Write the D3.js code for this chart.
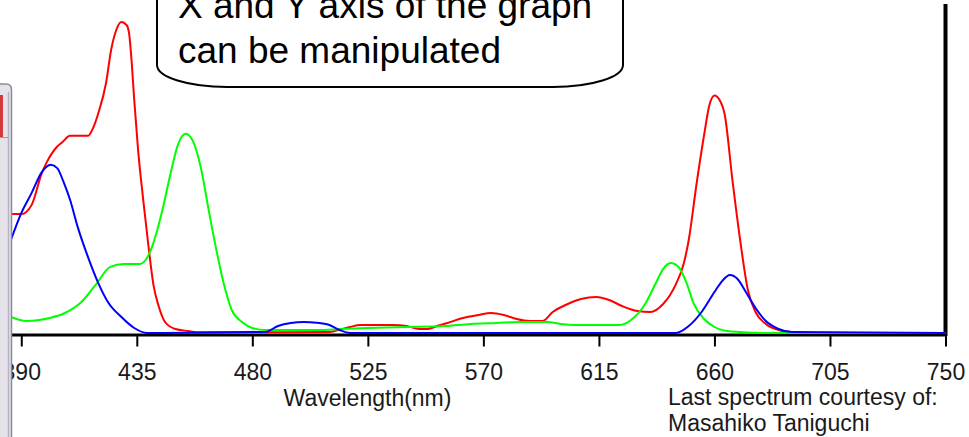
<!DOCTYPE html>
<html>
<head>
<meta charset="utf-8">
<style>
  html, body { margin: 0; padding: 0; background: #fff; }
  svg { display: block; }
</style>
<script src="https://cdn.jsdelivr.net/npm/d3@7"></script>
</head>
<body>
<svg id="chart" width="969" height="437"></svg>
<script>
// spectrum data (relative intensity 0-100)
const redNm  = [386, 390, 394, 398, 400, 402, 404, 406, 409, 412, 416, 418, 420, 423, 425, 427, 429, 431, 432, 433, 434, 435.5, 437.5, 439.5, 441.5, 443.5, 446, 450, 455, 460, 510, 515, 518, 522, 535, 540, 545, 548, 552, 556, 562, 568, 573, 578, 583, 588, 593, 597, 602, 608, 614, 619, 624, 630, 635, 640, 645, 648, 650, 653, 656, 658, 660, 662, 664, 667, 670, 673, 676, 680, 685, 690, 700, 750];
const redVal = [35.7, 35.7, 38.4, 48, 51.4, 54, 56, 57.3, 59.2, 59.2, 59.2, 61.6, 66, 75, 85, 91, 93.4, 92.5, 90, 81.4, 70, 55, 40, 26.4, 14.4, 8.1, 3.3, 1.2, 0.6, 0.2, 0.3, 1.2, 1.8, 2.4, 2.4, 2.1, 1.2, 1.2, 2.1, 3, 4.5, 5.4, 6, 5.4, 4.2, 3.6, 3.6, 6.3, 8.4, 10.2, 10.8, 9.9, 8.1, 6.6, 6.3, 8.7, 14.7, 20.7, 28, 44.6, 59.6, 68.3, 71.3, 70, 65.6, 46, 28, 13, 6.3, 2.7, 0.9, 0.3, 0, 0];

const greenNm  = [386, 392, 397, 401, 407, 413, 419.5, 424.5, 430, 436, 438.5, 441, 443, 445, 448, 451, 454, 457, 460, 463, 466, 469, 472, 476, 480, 485, 505, 515, 525, 540, 555, 565, 575, 585, 595, 600, 606, 615, 623, 628, 633, 637, 640, 643, 646, 649, 652, 656, 660, 665, 670, 680, 750];
const greenVal = [4.8, 3.6, 3.9, 4.5, 6, 9, 15, 19.8, 20.7, 20.7, 22, 26, 31, 37, 47.4, 56.5, 59.8, 57.4, 49.5, 36.9, 24.9, 14.4, 6.9, 3.3, 1.5, 0.9, 0.9, 1.2, 1.5, 1.8, 2.1, 2.7, 3, 3.3, 3.3, 2.7, 2.4, 2.4, 2.4, 4.2, 8.7, 14.7, 19.2, 21, 19.8, 15.3, 8.7, 4.2, 1.8, 0.6, 0.3, 0, 0];

const blueNm  = [386, 390, 394, 398, 401.5, 404, 406.5, 409, 412, 416, 420, 424, 429, 434, 439, 485, 490, 495, 500, 505, 510, 514, 518, 645, 650, 655, 660, 663, 666, 669, 672, 676, 680, 685, 690, 750];
const blueVal = [28, 36, 42, 48.3, 50.5, 49.5, 45.3, 40, 31.8, 22.8, 15, 9, 4.8, 1.5, 0, 0.3, 2.1, 3, 3.3, 3.1, 2.4, 0.9, 0, 0, 2.1, 6.3, 12.3, 15.6, 17.4, 16.2, 12.6, 7.5, 3.6, 1.2, 0.3, 0];

const tickNm = [390, 435, 480, 525, 570, 615, 660, 705, 750];
const calloutLines = ["X and Y axis of the graph", "can be manipulated"];
const creditLines = ["Last spectrum courtesy of:", "Masahiko Taniguchi"];

const series = [
  { nm: redNm, val: redVal, color: "#ff0000" },
  { nm: greenNm, val: greenVal, color: "#00ff00" },
  { nm: blueNm, val: blueVal, color: "#0000ff" }
];

const x = d3.scaleLinear().domain([386, 750]).range([11, 945.5]);
const y = d3.scaleLinear().domain([0, 100]).range([333, 0]);

const svg = d3.select("#chart")
    .style("font-family", "'Liberation Sans', Arial, sans-serif");

svg.append("rect").attr("width", 969).attr("height", 437).attr("fill", "#fff");

// right border of the plot
svg.append("line")
    .attr("x1", x(750)).attr("x2", x(750))
    .attr("y1", 4).attr("y2", 336)
    .attr("stroke", "#000").attr("stroke-width", 4);

// wavelength axis
const axis = svg.append("g")
    .attr("transform", "translate(0,334.5)")
    .call(d3.axisBottom(x).tickValues(tickNm).tickSize(12).tickSizeOuter(0).tickFormat(d3.format("d")));
axis.select(".domain").attr("stroke", "#000").attr("stroke-width", 3);
axis.selectAll(".tick line").attr("stroke", "#000").attr("stroke-width", 2);
axis.selectAll(".tick text")
    .attr("y", 0).attr("dy", 0)
    .attr("transform", "translate(0,45.5)")
    .style("font-size", "23px")
    .style("font-family", "'Liberation Sans', Arial, sans-serif")
    .attr("fill", "#1a1a1a");

// spectra
const line = d3.line()
    .x(d => x(d[0]))
    .y(d => y(d[1]))
    .curve(d3.curveMonotoneX);

svg.append("g")
    .attr("fill", "none")
    .attr("stroke-width", 2)
    .selectAll("path")
    .data(series)
    .join("path")
    .attr("stroke", d => d.color)
    .attr("d", d => line(d3.zip(d.nm, d.val)));

svg.append("text")
    .attr("x", 367.5).attr("y", 406)
    .attr("text-anchor", "middle")
    .style("font-size", "23px")
    .attr("fill", "#1a1a1a")
    .text("Wavelength(nm)");

svg.append("g")
    .selectAll("text")
    .data(creditLines)
    .join("text")
    .attr("x", 668)
    .attr("y", (d, i) => 405 + i * 26)
    .style("font-size", "23px")
    .attr("fill", "#1a1a1a")
    .text(d => d);

// callout box, top runs off the picture
const bx0 = 157, bx1 = 623, bBottom = 87, rx = 70, ry = 22;
svg.append("path")
    .attr("d", `M${bx0},-10 L${bx0},${bBottom - ry}
      A${rx},${ry} 0 0,0 ${bx0 + rx},${bBottom}
      L${bx1 - rx},${bBottom}
      A${rx},${ry} 0 0,0 ${bx1},${bBottom - ry}
      L${bx1},-10`)
    .attr("fill", "#fff")
    .attr("stroke", "#000")
    .attr("stroke-width", 2);

svg.append("g")
    .selectAll("text")
    .data(calloutLines)
    .join("text")
    .attr("x", 178)
    .attr("y", (d, i) => 18 + i * 45)
    .style("font-size", "37px")
    .attr("fill", "#000")
    .text(d => d);

// edge of another window covering the left side
const frame = svg.append("g");
frame.append("path")
    .attr("d", "M0,84 L6,84 Q12,84 12,90 L12,437 L0,437 Z")
    .attr("fill", "#e6e2ea");
frame.append("path")
    .attr("d", "M0,84 L6,84 Q11.5,84 11.5,90 L11.5,437")
    .attr("fill", "none").attr("stroke", "#8a8c9c").attr("stroke-width", 1.5);
frame.append("line")
    .attr("x1", 8.5).attr("x2", 8.5).attr("y1", 92).attr("y2", 437)
    .attr("stroke", "#b4b4c4").attr("stroke-width", 1.5);
frame.append("rect")
    .attr("x", 0).attr("y", 95).attr("width", 3).attr("height", 42)
    .attr("fill", "#d43a3a");
frame.append("line")
    .attr("x1", 0).attr("x2", 8).attr("y1", 137.5).attr("y2", 137.5)
    .attr("stroke", "#9a9aaa").attr("stroke-width", 1);
</script>
</body>
</html>
